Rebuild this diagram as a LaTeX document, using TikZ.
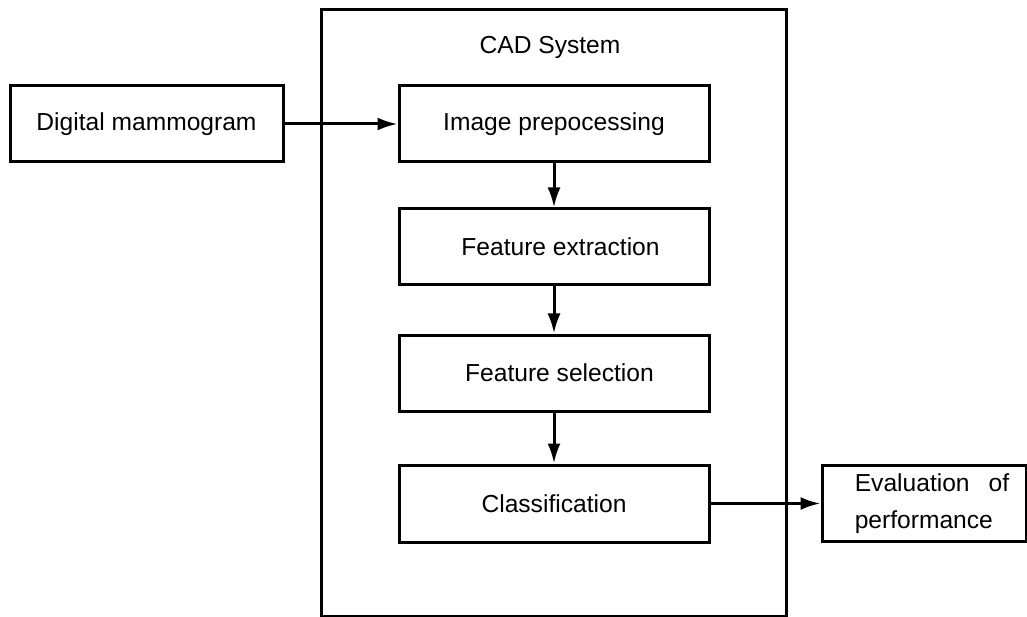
\documentclass[tikz,border=0pt]{standalone}
\usepackage{fontspec}
\setmainfont{Liberation Sans}
\usetikzlibrary{arrows.meta}
\begin{document}
\begin{tikzpicture}[x=1pt,y=-1pt,
  box/.style={draw,line width=3pt,rectangle,minimum width=310pt,minimum height=76pt,inner sep=0pt,font=\fontsize{24.6}{37}\selectfont},
  conn/.style={line width=3pt,-{Latex[length=20pt,width=13pt]}},
  lbl/.style={font=\fontsize{24.6}{37}\selectfont,inner sep=0pt}]
\useasboundingbox (0,0) rectangle (1027,617);
\node[draw,line width=3pt,minimum width=465pt,minimum height=606pt,inner sep=0pt] (cad) at (553.5,313) {};
\node[lbl] (cadlbl) at (550,47) {CAD System};
\node[box,minimum width=273pt] (dm) at (146.5,124) {Digital mammogram};
\node[box] (ip) at (554,124) {Image prepocessing};
\node[box] (fe) at (554,247) {\hspace{13pt}Feature extraction};
\node[box] (fs) at (554,373) {\hspace{11pt}Feature selection};
\node[box,minimum height=77pt] (cl) at (554,503.5) {Classification};
\node[box,minimum width=204pt,align=left] (ev) at (924,503.5) {\hspace*{16pt}Evaluation\hspace{19pt}of\\\hspace*{16pt}performance};
\draw[conn] (dm) -- (ip);
\draw[conn] (ip) -- (fe);
\draw[conn] (fe) -- (fs);
\draw[conn] (fs) -- (cl);
\draw[conn] (cl) -- (ev);
\end{tikzpicture}
\end{document}
